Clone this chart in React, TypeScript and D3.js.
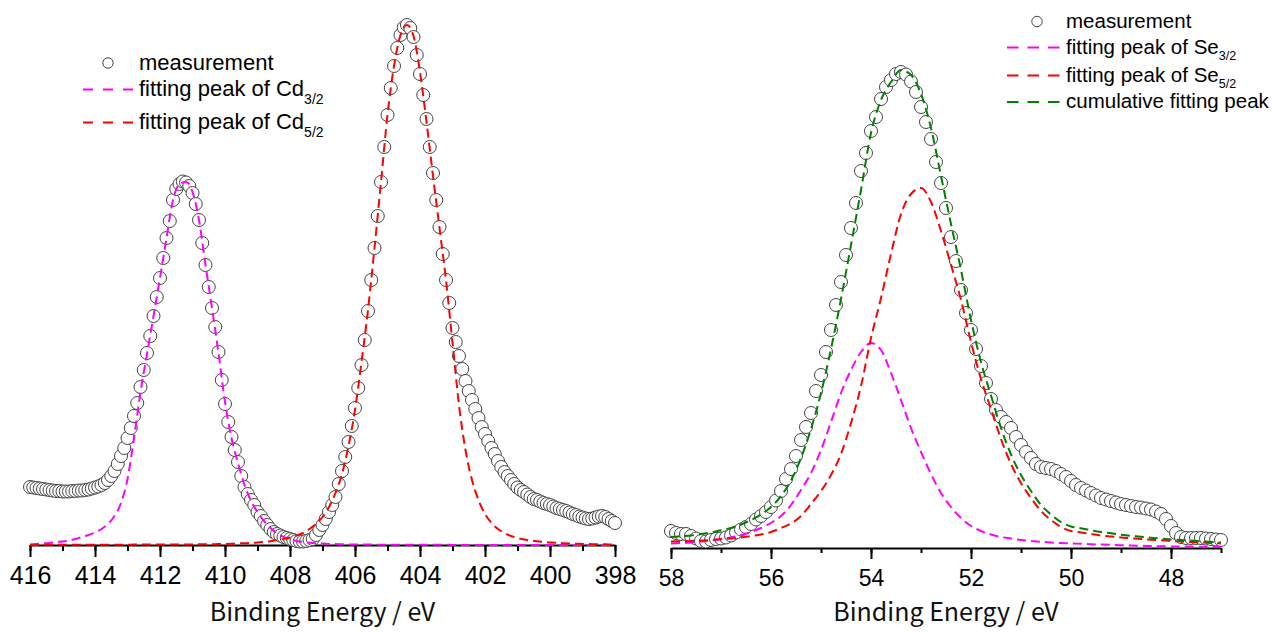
import React, { useEffect, useRef } from 'react'
import * as d3 from 'd3'

// Cd 3d region, measured every 0.1 eV from 416 eV down to 398 eV
const cdStart = 416
const cdStep = 0.1
const cdMeasured = [
  11.6, 11.5, 11.4, 11.3, 11.2, 11.1, 11.0, 10.9, 10.8, 10.8,
  10.7, 10.7, 10.7, 10.8, 10.8, 10.9, 10.9, 11.0, 11.1, 11.3,
  11.5, 11.7, 12.0, 12.4, 13.0, 13.8, 14.8, 16.2, 17.8, 19.4,
  21.4, 23.4, 25.8, 28.4, 31.6, 35.0, 38.4, 41.8, 45.8, 49.6,
  53.4, 57.4, 61.4, 64.8, 69.0, 71.2, 72.2, 72.7, 72.5, 71.8,
  70.4, 68.2, 65.0, 60.4, 56.0, 51.6, 47.4, 43.6, 38.6, 33.0,
  28.2, 24.6, 21.6, 19.0, 16.6, 13.8, 11.6, 10.2, 9.0, 8.0,
  6.6, 5.8, 4.8, 4.0, 3.2, 2.6, 2.2, 1.9, 1.6, 1.4,
  1.2, 1.0, 0.8, 0.7, 0.7, 0.8, 1.0, 1.2, 2.0, 3.0,
  4.0, 5.2, 6.6, 8.0, 9.6, 12.2, 14.8, 17.6, 20.6, 23.8,
  27.4, 31.4, 36.0, 41.0, 46.8, 53.0, 59.4, 65.8, 72.6, 79.6,
  86.0, 91.4, 95.8, 99.4, 102.0, 103.5, 104.0, 103.4, 101.6, 98.0,
  94.2, 90.0, 85.2, 79.6, 74.4, 69.0, 63.6, 58.2, 53.0, 48.4,
  43.4, 40.6, 37.8, 35.2, 32.8, 30.8, 29.0, 27.2, 25.4, 23.6,
  22.2, 20.8, 19.4, 18.2, 16.8, 15.6, 14.6, 13.8, 13.0, 12.2,
  11.5, 11.0, 10.6, 10.1, 9.6, 9.2, 9.0, 8.7, 8.4, 8.2,
  8.0, 7.7, 7.4, 7.2, 7.0, 6.8, 6.5, 6.2, 6.0, 5.7,
  5.5, 5.3, 5.2, 5.3, 5.5, 5.7, 5.8, 5.6, 5.2, 4.8,
  4.4,
]

// fitted components, every 0.2 eV over the same range
const cdFitStep = 0.2
const cd32Fit = [
  0.1, 0.2, 0.3, 0.4, 0.6, 0.7, 0.9, 1.2, 1.6, 2.0,
  2.5, 3.2, 4.2, 5.8, 8.4, 13.2, 21.4, 30.6, 38.2, 45.8,
  53.4, 61.4, 69.0, 72.2, 72.6, 70.6, 65.0, 56.0, 47.4, 38.4,
  28.6, 21.4, 16.4, 12.0, 8.8, 6.6, 4.8, 3.4, 2.4, 1.6,
  1.1, 0.8, 0.6, 0.45, 0.35, 0.28, 0.22, 0.18, 0.15, 0.12,
  0.1, 0.09, 0.08, 0.07, 0.06, 0.06, 0.05, 0.05, 0.04, 0.04,
  0.04, 0.03, 0.03, 0.03, 0.03, 0.02, 0.02, 0.02, 0.02, 0.02,
  0.02, 0.02, 0.02, 0.02, 0.02, 0.02, 0.02, 0.02, 0.02, 0.02,
  0.01, 0.01, 0.01, 0.01, 0.01, 0.01, 0.01, 0.01, 0.01, 0.01,
  0.01,
]
const cd52Fit = [
  0.02, 0.02, 0.03, 0.03, 0.03, 0.03, 0.04, 0.04, 0.04, 0.05,
  0.05, 0.05, 0.06, 0.06, 0.07, 0.07, 0.08, 0.08, 0.09, 0.09,
  0.1, 0.1, 0.11, 0.11, 0.12, 0.12, 0.13, 0.15, 0.16, 0.18,
  0.2, 0.25, 0.3, 0.35, 0.4, 0.5, 0.6, 0.75, 1.0, 1.2,
  1.5, 1.9, 2.4, 3.2, 4.2, 5.6, 7.6, 10.4, 14.2, 19.8,
  27.0, 36.6, 47.0, 59.4, 72.6, 86.0, 95.8, 102.0, 104.0, 101.8,
  94.6, 84.6, 73.8, 63.4, 53.0, 40.5, 28.0, 19.0, 13.0, 9.0,
  6.2, 4.4, 3.2, 2.4, 1.8, 1.4, 1.1, 0.9, 0.75, 0.6,
  0.5, 0.42, 0.36, 0.3, 0.26, 0.22, 0.19, 0.16, 0.14, 0.12,
  0.1,
]

// Se 3d region, measured every 0.1 eV from 58 eV down to 47 eV
const seStart = 58
const seStep = 0.1
const seMeasured = [
  3.4, 3.0, 2.8, 2.8, 2.4, 1.9, 1.4, 1.3, 1.6, 1.8,
  1.9, 2.1, 2.5, 3.1, 3.7, 4.2, 4.8, 5.7, 6.4, 7.2,
  8.2, 9.5, 11.4, 13.8, 15.8, 18.4, 21.6, 24.2, 27.0, 31.4,
  34.6, 39.2, 43.6, 48.6, 53.2, 58.6, 64.0, 69.0, 75.4, 79.0,
  83.4, 86.2, 89.8, 92.2, 93.6, 94.8, 95.2, 94.7, 93.3, 91.2,
  88.2, 85.2, 81.8, 77.2, 73.0, 68.0, 62.2, 57.4, 51.6, 47.0,
  43.6, 39.8, 36.4, 33.0, 29.8, 27.6, 26.2, 25.2, 24.0, 22.2,
  20.6, 19.2, 18.0, 16.8, 16.2, 16.0, 15.8, 15.4, 14.8, 14.2,
  13.4, 12.6, 12.0, 11.5, 11.0, 10.5, 10.0, 9.7, 9.4, 9.1,
  8.8, 8.6, 8.4, 8.2, 8.1, 7.9, 7.7, 7.3, 6.8, 5.8,
  4.4, 3.0, 2.2, 2.0, 2.0, 2.0, 2.0, 1.9, 1.8, 1.7,
  1.6,
]

const seFitStep = 0.2
const se32Fit = [
  0.9, 1.0, 1.1, 1.3, 1.5, 1.8, 2.1, 2.6, 3.2, 4.0,
  5.0, 6.4, 8.6, 11.6, 15.0, 19.6, 25.2, 31.0, 35.6, 39.2,
  41.0, 39.6, 35.0, 29.6, 24.0, 19.2, 14.8, 11.0, 8.2, 6.0,
  4.4, 3.4, 2.7, 2.2, 1.9, 1.6, 1.4, 1.24, 1.1, 1.0,
  0.9, 0.85, 0.75, 0.7, 0.65, 0.55, 0.5, 0.45, 0.4, 0.35,
  0.3, 0.3, 0.28, 0.25, 0.22, 0.2,
]
const se52Fit = [
  1.3, 1.35, 1.4, 1.5, 1.6, 1.75, 1.9, 2.1, 2.4, 2.7,
  3.2, 4.0, 4.9, 6.4, 8.8, 11.4, 14.6, 18.8, 25.0, 32.4,
  42.0, 50.0, 58.8, 66.8, 70.8, 72.0, 69.2, 63.4, 56.6, 49.6,
  41.2, 33.8, 27.8, 21.8, 16.8, 13.0, 10.0, 7.4, 5.6, 4.2,
  3.4, 3.1, 2.8, 2.5, 2.3, 2.1, 1.95, 1.8, 1.65, 1.55,
  1.4, 1.3, 1.2, 1.1, 1.0, 0.9,
]
const seSumFit = [
  2.2, 2.35, 2.5, 2.8, 3.1, 3.55, 4.0, 4.7, 5.6, 6.7,
  8.2, 10.4, 13.5, 18.0, 23.8, 31.0, 39.8, 49.8, 60.6, 71.6,
  83.0, 89.6, 93.2, 95.6, 94.6, 90.8, 84.0, 74.4, 64.8, 55.6,
  45.6, 37.2, 30.5, 24.0, 18.7, 14.6, 11.4, 8.6, 6.7, 5.2,
  4.3, 3.95, 3.55, 3.2, 2.95, 2.65, 2.45, 2.25, 2.05, 1.9,
  1.7, 1.6, 1.48, 1.35, 1.22, 1.1,
]

const cdMajorTicks = [416, 414, 412, 410, 408, 406, 404, 402, 400, 398]
const cdMinorTicks = d3.range(398, 417, 1)
const seMajorTicks = [58, 56, 54, 52, 50, 48]
const seMinorTicks = d3.range(47, 59, 1)

const axisTitle = 'Binding Energy / eV'

const width = 1273
const height = 632

function toPoints(start, step, values) {
  return values.map((v, i) => ({ e: start - i * step, v }))
}

function drawPanel(svg, p) {
  const x = d3.scaleLinear().domain(p.xDomain).range(p.xRange)
  const y = d3.scaleLinear().domain([0, p.yMax]).range([p.axisY, p.top])

  const g = svg.append('g')

  // minor ticks
  g.append('g')
    .attr('transform', `translate(0,${p.axisY})`)
    .call(d3.axisBottom(x).tickValues(p.minor).tickSize(p.minorLen).tickSizeOuter(0).tickFormat(() => ''))
    .call(a => a.select('.domain').remove())
    .call(a => a.selectAll('line').attr('stroke', '#000').attr('stroke-width', 2))

  // major ticks + labels
  const ax = g.append('g')
    .attr('transform', `translate(0,${p.axisY})`)
    .call(d3.axisBottom(x).tickValues(p.major).tickSize(p.majorLen).tickSizeOuter(0).tickFormat(d3.format('d')))
  ax.select('.domain').attr('stroke', '#000').attr('stroke-width', 2)
  ax.selectAll('line').attr('stroke', '#000').attr('stroke-width', 2)
  ax.selectAll('text')
    .attr('y', p.labelY)
    .attr('dy', 0)
    .attr('fill', '#000')
    .attr('font-size', p.labelSize)
    .attr('font-family', 'Liberation Sans, Arial, sans-serif')

  g.append('text')
    .attr('x', (p.xRange[0] + p.xRange[1]) / 2)
    .attr('y', 621)
    .attr('text-anchor', 'middle')
    .attr('font-size', 25)
    .attr('font-family', '"Noto Sans CJK JP", "Noto Sans", sans-serif')
    .attr('fill', '#111')
    .text(axisTitle)

  // measured points, white filled circles
  g.append('g').selectAll('circle')
    .data(p.measured)
    .enter().append('circle')
    .attr('cx', d => x(d.e))
    .attr('cy', d => y(d.v))
    .attr('r', 6.5)
    .attr('fill', '#fff')
    .attr('stroke', '#444')
    .attr('stroke-width', 1)

  const line = d3.line()
    .x(d => x(d.e))
    .y(d => y(d.v))
    .curve(d3.curveMonotoneX)

  p.fits.forEach(f => {
    g.append('path')
      .attr('d', line(f.data))
      .attr('fill', 'none')
      .attr('stroke', f.color)
      .attr('stroke-width', 2)
      .attr('stroke-dasharray', '9,5')
  })

  // legend
  const lg = svg.append('g')
  const L = p.legend
  lg.append('circle')
    .attr('cx', L.circleX)
    .attr('cy', L.rows[0])
    .attr('r', 5.2)
    .attr('fill', '#fff')
    .attr('stroke', '#444')
  lg.append('text')
    .attr('x', L.textX)
    .attr('y', L.rows[0] + L.baseOff)
    .attr('font-size', L.size)
    .attr('font-family', 'Liberation Sans, Arial, sans-serif')
    .attr('fill', '#000')
    .text('measurement')

  L.items.forEach((it, i) => {
    const ry = L.rows[i + 1]
    lg.append('line')
      .attr('x1', L.lineX1)
      .attr('x2', L.lineX2)
      .attr('y1', ry)
      .attr('y2', ry)
      .attr('stroke', it.color)
      .attr('stroke-width', 2)
      .attr('stroke-dasharray', L.dash)
    const t = lg.append('text')
      .attr('x', L.textX)
      .attr('y', ry + L.baseOff)
      .attr('font-size', L.size)
      .attr('font-family', 'Liberation Sans, Arial, sans-serif')
      .attr('fill', '#000')
    t.append('tspan').text(it.label)
    if (it.sub) {
      t.append('tspan')
        .attr('font-size', L.subSize)
        .attr('dy', L.subDy)
        .text(it.sub)
    }
  })
}

function App() {
  const ref = useRef(null)

  useEffect(() => {
    const svg = d3.select(ref.current)
    svg.selectAll('*').remove()

    drawPanel(svg, {
      xDomain: [416, 398],
      xRange: [30, 615],
      axisY: 545,
      top: 25,
      yMax: 104,
      major: cdMajorTicks,
      minor: cdMinorTicks,
      majorLen: 12,
      minorLen: 6,
      labelY: 39,
      labelSize: 25,
      measured: toPoints(cdStart, cdStep, cdMeasured),
      fits: [
        { color: '#ff00ff', data: toPoints(cdStart, cdFitStep, cd32Fit) },
        { color: '#ff0000', data: toPoints(cdStart, cdFitStep, cd52Fit) },
      ],
      legend: {
        circleX: 108,
        textX: 139,
        lineX1: 83,
        lineX2: 133,
        dash: '10,10',
        size: 22,
        subSize: 14,
        subDy: 8,
        baseOff: 6.5,
        rows: [63, 89.5, 122.5],
        items: [
          { color: '#ff00ff', label: 'fitting peak of Cd', sub: '3/2' },
          { color: '#ff0000', label: 'fitting peak of Cd', sub: '5/2' },
        ],
      },
    })

    drawPanel(svg, {
      xDomain: [58, 47],
      xRange: [671, 1221],
      axisY: 548,
      top: 72,
      yMax: 95.2,
      major: seMajorTicks,
      minor: seMinorTicks,
      majorLen: 11,
      minorLen: 5,
      labelY: 38,
      labelSize: 23,
      measured: toPoints(seStart, seStep, seMeasured),
      fits: [
        { color: '#ff00ff', data: toPoints(seStart, seFitStep, se32Fit) },
        { color: '#ff0000', data: toPoints(seStart, seFitStep, se52Fit) },
        { color: '#008000', data: toPoints(seStart, seFitStep, seSumFit) },
      ],
      legend: {
        circleX: 1037,
        textX: 1066,
        lineX1: 1007,
        lineX2: 1060,
        dash: '11.5,9',
        size: 20.5,
        subSize: 12.5,
        subDy: 6.5,
        baseOff: 6,
        rows: [21.5, 47.5, 75.5, 102],
        items: [
          { color: '#ff00ff', label: 'fitting peak of Se', sub: '3/2' },
          { color: '#ff0000', label: 'fitting peak of Se', sub: '5/2' },
          { color: '#008000', label: 'cumulative fitting peak' },
        ],
      },
    })
  }, [])

  return (
    <svg
      ref={ref}
      width={width}
      height={height}
      style={{ position: 'absolute', left: 0, top: 0, background: '#fff' }}
    />
  )
}

export default App
